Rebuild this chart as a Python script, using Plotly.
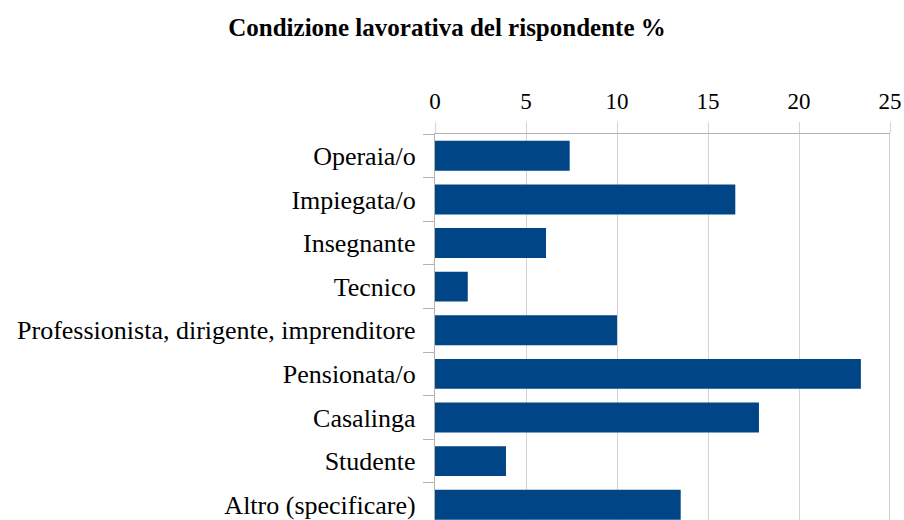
import plotly.graph_objects as go

categories = ["Operaia/o", "Impiegata/o", "Insegnante", "Tecnico",
              "Professionista, dirigente, imprenditore", "Pensionata/o",
              "Casalinga", "Studente", "Altro (specificare)"]
values = [7.4, 16.5, 6.1, 1.8, 10.0, 23.4, 17.8, 3.9, 13.5]
x_ticks = [0, 5, 10, 15, 20, 25]
title = "Condizione lavorativa del rispondente %"

FONT = "Liberation Serif, Times New Roman, serif"

W, H = 904, 520

fig = go.Figure(go.Bar(
    x=values, y=categories, orientation="h",
    marker=dict(color="#004586", line=dict(width=0)),
))

fig.update_layout(
    width=W, height=H,
    margin=dict(l=435, r=14, t=134, b=0, pad=0, autoexpand=False),
    paper_bgcolor="white", plot_bgcolor="white",
    bargap=0.314,
    showlegend=False,
    title=dict(text="<b>" + title + "</b>", x=447 / W, xanchor="center",
               y=1 - 27 / H, yanchor="middle",
               font=dict(family=FONT, size=25, color="black")),
    font=dict(family=FONT, color="black"),
)

fig.update_xaxes(
    side="top", range=[0, 25], tickvals=x_ticks,
    ticktext=[str(v) for v in x_ticks],
    tickfont=dict(family=FONT, size=23, color="black"),
    showgrid=True, gridcolor="#d4d4d4", gridwidth=1.3,
    ticks="outside", ticklen=11, tickcolor="#d4d4d4", tickwidth=1.3,
    showline=True, linecolor="#b3b3b3", linewidth=1.3,
    zeroline=False, fixedrange=True, automargin=False,
    ticklabelstandoff=4,
)

fig.update_yaxes(
    type="category", categoryorder="array", categoryarray=categories,
    range=[8.35, -0.5],
    tickfont=dict(family=FONT, size=26, color="black"),
    tickson="boundaries", ticks="outside", ticklen=11,
    tickcolor="#b3b3b3", tickwidth=1.3,
    showline=True, linecolor="#b3b3b3", linewidth=1.3,
    showgrid=False, zeroline=False, fixedrange=True, automargin=False,
    ticklabelstandoff=13,
)

fig.add_shape(type="line", xref="x", yref="paper", x0=25, x1=25, y0=0, y1=1,
              line=dict(color="#b3b3b3", width=1.3))

fig.write_html(
    "out.html",
    config={"displayModeBar": False},
    post_script="document.body.style.margin='0';document.body.style.overflow='hidden';",
)
